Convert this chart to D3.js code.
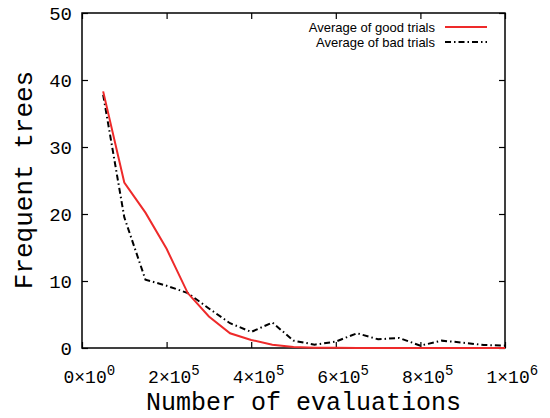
<!DOCTYPE html>
<html>
<head>
<meta charset="utf-8">
<script src="https://cdn.jsdelivr.net/npm/d3@7"></script>
<style>
  body { margin: 0; background: #fff; }
</style>
</head>
<body>
<script>
// evaluations (x) shared by both series
const evaluations = [50000, 100000, 150000, 200000, 250000, 300000, 350000, 400000, 450000, 500000,
    550000, 600000, 650000, 700000, 750000, 800000, 850000, 900000, 950000, 1000000];
const goodTrials = [38.3, 24.7, 20.2, 14.8, 8.2, 4.7, 2.2, 1.2, 0.5, 0.15,
    0.05, 0.02, 0, 0, 0, 0, 0, 0, 0, 0];
const badTrials = [37.8, 19.5, 10.2, 9.3, 8.2, 5.9, 3.7, 2.4, 3.8, 1.1,
    0.5, 0.95, 2.2, 1.3, 1.5, 0.35, 1.1, 0.8, 0.45, 0.35];
const xTicks = [0, 200000, 400000, 600000, 800000, 1000000];
const yTicks = [0, 10, 20, 30, 40, 50];
const seriesNames = ["Average of good trials", "Average of bad trials"];

const margin = { top: 13, right: 45, bottom: 70, left: 82 },
    width = 550 - margin.left - margin.right,
    height = 418 - margin.top - margin.bottom;

const svg = d3.select("body").append("svg")
    .attr("width", 550)
    .attr("height", 418);

const g = svg.append("g")
    .attr("transform", `translate(${margin.left},${margin.top})`);

const x = d3.scaleLinear().domain([0, 1000000]).range([0, width]);
const y = d3.scaleLinear().domain([0, 50]).range([height, 0]);

const mono = "'Liberation Mono', 'Courier New', monospace";

// ticks pointing inward on all four sides
const tickStyle = sel => {
    sel.select(".domain").remove();
    sel.selectAll(".tick line").attr("stroke", "#000").attr("stroke-width", 1.2);
};

// bottom axis with a×10^b labels
const xAxisG = g.append("g")
    .attr("transform", `translate(0,${height})`)
    .call(d3.axisBottom(x).tickValues(xTicks).tickSizeInner(-6).tickSizeOuter(0).tickFormat(""))
    .call(tickStyle);

xAxisG.selectAll(".tick text").remove();
xAxisG.selectAll(".tick").each(function (d) {
    const exp = d === 0 ? 0 : Math.floor(Math.log10(d));
    const mant = d === 0 ? 0 : Math.round(d / Math.pow(10, exp));
    const t = d3.select(this).append("text")
        .attr("x", -19)
        .attr("y", 35)
        .attr("fill", "#000")
        .attr("text-anchor", "start")
        .style("font-family", mono)
        .style("font-size", "18px");
    t.append("tspan").text(mant + "\u00d710");
    t.append("tspan").attr("dy", -8).style("font-size", "14px").text(exp);
});

g.append("g")
    .call(d3.axisTop(x).tickValues(xTicks).tickSizeInner(-6).tickSizeOuter(0).tickFormat(""))
    .call(tickStyle);

g.append("g")
    .call(d3.axisLeft(y).tickValues(yTicks).tickSizeInner(-6).tickSizeOuter(0).tickPadding(10))
    .call(tickStyle)
    .selectAll("text")
    .attr("fill", "#000")
    .attr("dy", "0.35em")
    .style("font-family", mono)
    .style("font-size", "19px");

g.append("g")
    .attr("transform", `translate(${width},0)`)
    .call(d3.axisRight(y).tickValues(yTicks).tickSizeInner(-6).tickSizeOuter(0).tickFormat(""))
    .call(tickStyle);

// border
g.append("rect")
    .attr("width", width)
    .attr("height", height)
    .attr("fill", "none")
    .attr("stroke", "#000")
    .attr("stroke-width", 1.5);

const line = d3.line()
    .x((d, i) => x(evaluations[i]))
    .y(d => y(d));

g.append("path")
    .datum(badTrials)
    .attr("fill", "none")
    .attr("stroke", "#000")
    .attr("stroke-width", 2)
    .attr("stroke-dasharray", "6,3,1.5,3")
    .attr("d", line);

g.append("path")
    .datum(goodTrials)
    .attr("fill", "none")
    .attr("stroke", "#ee2a2a")
    .attr("stroke-width", 2)
    .attr("d", line);

// legend
const legend = svg.append("g");
const legendStyles = [
    { stroke: "#ee2a2a", dash: null },
    { stroke: "#000", dash: "6,3,1.5,3" }
];
seriesNames.forEach((name, i) => {
    const yy = 27 + i * 15;
    legend.append("text")
        .attr("x", 435)
        .attr("y", yy + 4.5)
        .attr("text-anchor", "end")
        .style("font-family", "'Liberation Sans', Arial, sans-serif")
        .style("font-size", "13px")
        .text(name);
    legend.append("line")
        .attr("x1", 445).attr("x2", 487)
        .attr("y1", yy).attr("y2", yy)
        .attr("stroke", legendStyles[i].stroke)
        .attr("stroke-width", 2)
        .attr("stroke-dasharray", legendStyles[i].dash);
});

// axis titles
svg.append("text")
    .attr("x", margin.left + width / 2 + 10)
    .attr("y", 410)
    .attr("text-anchor", "middle")
    .style("font-family", mono)
    .style("font-size", "25px")
    .text("Number of evaluations");

svg.append("text")
    .attr("transform", "translate(32,180) rotate(-90)")
    .attr("text-anchor", "middle")
    .style("font-family", mono)
    .style("font-size", "26px")
    .text("Frequent trees");
</script>
</body>
</html>
